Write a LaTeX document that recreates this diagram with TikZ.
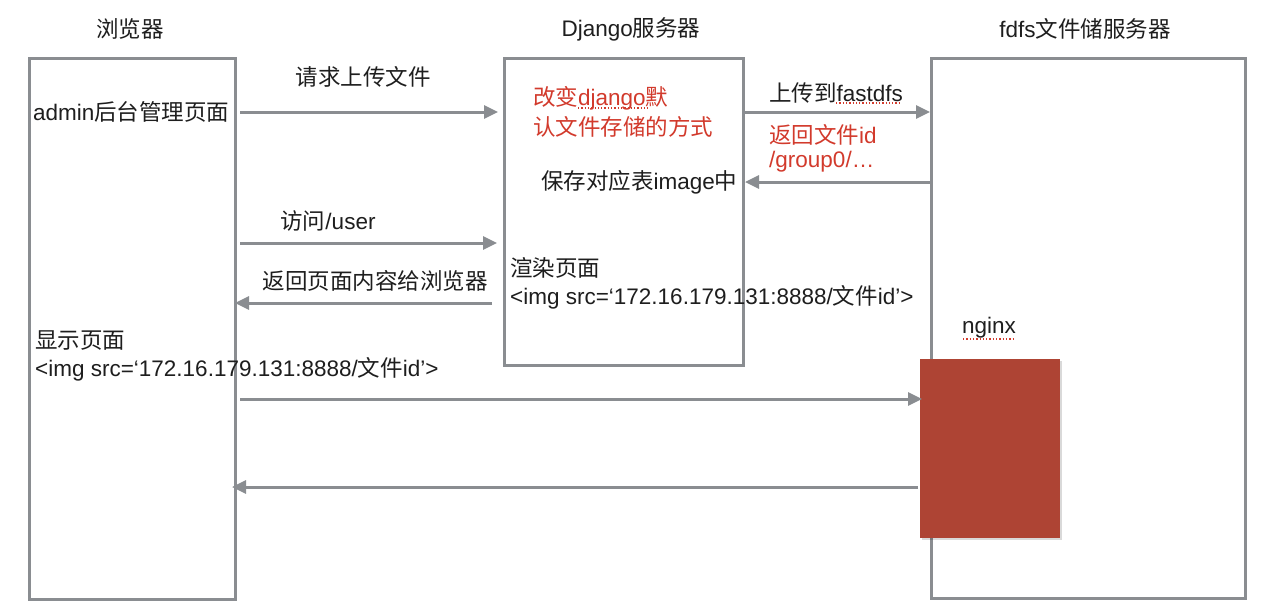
\documentclass[tikz,border=0pt]{standalone}
\usepackage{fontspec}
\setmainfont{Liberation Sans}
\newfontfamily\cjk{Noto Sans CJK SC}
\usetikzlibrary{arrows.meta}
\definecolor{lg}{HTML}{8A8D91}
\definecolor{rt}{HTML}{D23A2C}
\definecolor{rb}{HTML}{AE4434}
\definecolor{tx}{HTML}{1E1E1E}
\begin{document}
\begin{tikzpicture}[x=1pt,y=-1pt,
  lane/.style={draw=lg,line width=3pt,fill=white,inner sep=0pt,anchor=north west},
  txt/.style={text=tx,font=\fontsize{22.5pt}{28pt}\selectfont,inner sep=0pt},
  rtxt/.style={txt,text=rt},
  arr/.style={draw=lg,line width=3pt,-{Triangle[length=14pt,width=13pt]}},
  squig/.style={draw=rt,line width=1.3pt,dotted}]
\useasboundingbox (0,0) rectangle (1269,611);
% lanes
\node[lane,minimum width=206pt,minimum height=541pt] (br) at (28,57) {};
\node[lane,minimum width=239pt,minimum height=307pt] (dj) at (503,57) {};
\node[lane,minimum width=314pt,minimum height=540pt] (fd) at (930,57) {};
% titles
\node[txt] (tbr) at (130,29) {\cjk 浏览器};
\node[txt] (tdj) at (631,29) {Django{\cjk 服务器}};
\node[txt] (tfd) at (1085,29) {fdfs{\cjk 文件储服务器}};
% nginx block
\fill[black,opacity=0.15] (922,361) rectangle (1062,540);
\node[fill=rb,inner sep=0pt,minimum width=140pt,minimum height=179pt,anchor=north west] (ng) at (920,359) {};
\node[txt,anchor=west] (tng) at (962,328) {nginx};
\draw[squig] (963,339) -- (1015,339);
% texts
\node[txt,anchor=west] (adm) at (33,112) {admin{\cjk 后台管理页面}};
\node[rtxt,anchor=west] (r1) at (533,98) {{\cjk 改变}django{\cjk 默}};
\draw[squig] (578,108) -- (648,108);
\node[rtxt,anchor=west] (r2) at (533,127) {\cjk 认文件存储的方式};
\node[txt,anchor=west] (save) at (541,182) {{\cjk 保存对应表}image{\cjk 中}};
\node[txt,anchor=west] (rnd1) at (510,268) {\cjk 渲染页面};
\node[txt,anchor=west] (rnd2) at (510,297) {<img src=‘172.16.179.131:8888/{\cjk 文件}id’>};
\node[txt,anchor=west] (sh1) at (35,341) {\cjk 显示页面};
\node[txt,anchor=west] (sh2) at (35,369) {<img src=‘172.16.179.131:8888/{\cjk 文件}id’>};
% arrow labels
\node[txt] (l1) at (363,77) {\cjk 请求上传文件};
\node[txt,anchor=west] (l2) at (769,93) {{\cjk 上传到}fastdfs};
\draw[squig] (836,103) -- (900,103);
\node[rtxt,anchor=west] (l3a) at (769,135) {{\cjk 返回文件}id};
\node[rtxt,anchor=west] (l3b) at (769,162) {/group0/…};
\node[txt] (l4) at (328,221) {{\cjk 访问}/user};
\node[txt] (l5) at (375,281) {\cjk 返回页面内容给浏览器};
% connector end points
\coordinate (a1s) at (240,112); \coordinate (a1e) at (498,112);
\coordinate (a2s) at (745,112); \coordinate (a2e) at (930,112);
\coordinate (a3s) at (930,182); \coordinate (a3e) at (745,182);
\coordinate (a4s) at (240,243); \coordinate (a4e) at (497,243);
\coordinate (a5s) at (492,303); \coordinate (a5e) at (235,303);
\coordinate (a6s) at (240,399); \coordinate (a6e) at (922,399);
\coordinate (a7s) at (918,487); \coordinate (a7e) at (232,487);
\draw[arr] (a1s) -- (a1e);
\draw[arr] (a2s) -- (a2e);
\draw[arr] (a3s) -- (a3e);
\draw[arr] (a4s) -- (a4e);
\draw[arr] (a5s) -- (a5e);
\draw[arr] (a6s) -- (a6e);
\draw[arr] (a7s) -- (a7e);
\end{tikzpicture}
\end{document}
